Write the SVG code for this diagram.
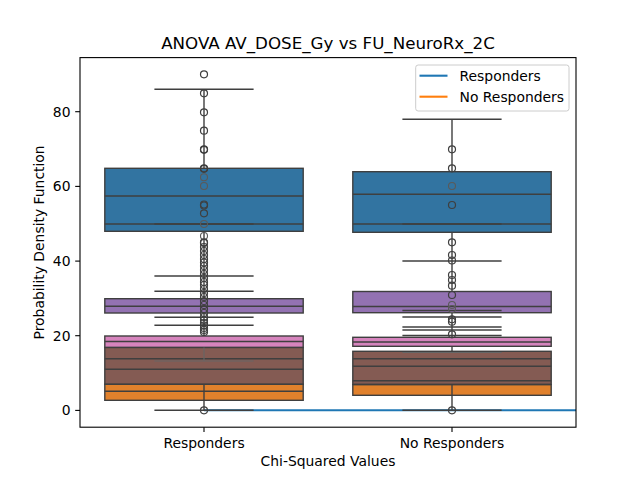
<svg xmlns="http://www.w3.org/2000/svg" width="640" height="480" viewBox="0 0 640 480">
<style>
.t{font-family:"DejaVu Sans","Liberation Sans",sans-serif;font-size:13.9px;fill:#000}
.box{stroke:#3f3f3f;stroke-width:1.4}
.ln{stroke:#3f3f3f;stroke-width:1.4;fill:none}
.lt{stroke:#666;stroke-width:1.1;fill:none}
.fl{fill:none;stroke:#3f3f3f;stroke-width:1.2}
.fll{fill:none;stroke:#5a5a5a;stroke-width:1.1}
.tk{stroke:#000;stroke-width:1.1}
.blue{fill:#3274a1}.orange{fill:#e1812c}.purple{fill:#9372b2}.brown{fill:#845b53}.pink{fill:#d684bd}
</style>
<rect width="640" height="480" fill="#fff"/>
<g id="baseline-line">
<line x1="204" y1="410.3" x2="576" y2="410.3" stroke="#1f77b4" stroke-width="2.1"/>
</g>
<g id="responders">
<line class="ln" x1="204" y1="89.3" x2="204" y2="168.3"/>
<line class="ln" x1="154.4" y1="89.3" x2="253.6" y2="89.3"/>
<line class="ln" x1="204" y1="231.3" x2="204" y2="336"/>
<rect class="box blue" x="104.8" y="168.3" width="198.4" height="63"/>
<line class="ln" x1="104.8" y1="196" x2="303.2" y2="196"/>
<line class="ln" x1="104.8" y1="224" x2="303.2" y2="224"/>
<line class="ln" x1="154.4" y1="224" x2="253.6" y2="224"/>
<line class="ln" x1="154.4" y1="276" x2="253.6" y2="276"/>
<line class="ln" x1="154.4" y1="291.3" x2="253.6" y2="291.3"/>
<line class="ln" x1="154.4" y1="317.3" x2="253.6" y2="317.3"/>
<line class="ln" x1="154.4" y1="325.3" x2="253.6" y2="325.3"/>
<rect class="box purple" x="104.8" y="298.7" width="198.4" height="14.3"/>
<line class="ln" x1="104.8" y1="306.3" x2="303.2" y2="306.3"/>
<rect class="box pink" x="104.8" y="336" width="198.4" height="11.5"/>
<line class="ln" x1="104.8" y1="341.5" x2="303.2" y2="341.5"/>
<rect class="box brown" x="104.8" y="347.5" width="198.4" height="36.8"/>
<line class="ln" x1="104.8" y1="358.7" x2="303.2" y2="358.7"/>
<line class="ln" x1="104.8" y1="369.3" x2="303.2" y2="369.3"/>
<line class="lt" x1="204" y1="347.5" x2="204" y2="361"/>
<line class="lt" x1="154.4" y1="361" x2="253.6" y2="361"/>
<rect class="box orange" x="104.8" y="384.3" width="198.4" height="16"/>
<line class="ln" x1="104.8" y1="391.3" x2="303.2" y2="391.3"/>
<line class="ln" x1="204" y1="384.3" x2="204" y2="410.3"/>
<line class="ln" x1="154.4" y1="410.3" x2="253.6" y2="410.3"/>
<g>
<circle class="fl" cx="204" cy="74.3" r="3.5"/>
<circle class="fl" cx="204" cy="93.3" r="3.5"/>
<circle class="fl" cx="204" cy="112.3" r="3.5"/>
<circle class="fl" cx="204" cy="130.7" r="3.5"/>
<circle class="fl" cx="204" cy="149.3" r="3.5"/>
<circle class="fl" cx="204" cy="149.8" r="3.5"/>
<circle class="fl" cx="204" cy="168.3" r="3.5"/>
<circle class="fl" cx="204" cy="168.8" r="3.5"/>
<circle class="fll" cx="204" cy="177.3" r="3.5"/>
<circle class="fll" cx="204" cy="186" r="3.5"/>
<circle class="fl" cx="204" cy="204.5" r="3.5"/>
<circle class="fl" cx="204" cy="205.5" r="3.5"/>
<circle class="fl" cx="204" cy="213.3" r="3.5"/>
<circle class="fll" cx="204" cy="224" r="3.5"/>
<circle class="fll" cx="204" cy="236" r="3.5"/>
<circle class="fl" cx="204" cy="242.3" r="3.5"/>
<circle class="fl" cx="204" cy="243" r="3.5"/>
<circle class="fl" cx="204" cy="247" r="3.5"/>
<circle class="fl" cx="204" cy="251" r="3.5"/>
<circle class="fl" cx="204" cy="255" r="3.5"/>
<circle class="fl" cx="204" cy="259" r="3.5"/>
<circle class="fl" cx="204" cy="262.5" r="3.5"/>
<circle class="fl" cx="204" cy="266" r="3.5"/>
<circle class="fl" cx="204" cy="270" r="3.5"/>
<circle class="fl" cx="204" cy="274" r="3.5"/>
<circle class="fl" cx="204" cy="278" r="3.5"/>
<circle class="fl" cx="204" cy="282" r="3.5"/>
<circle class="fl" cx="204" cy="285" r="3.5"/>
<circle class="fl" cx="204" cy="289" r="3.5"/>
<circle class="fl" cx="204" cy="293" r="3.5"/>
<circle class="fl" cx="204" cy="297" r="3.5"/>
<circle class="fl" cx="204" cy="301" r="3.5"/>
<circle class="fl" cx="204" cy="305" r="3.5"/>
<circle class="fl" cx="204" cy="309" r="3.5"/>
<circle class="fl" cx="204" cy="313" r="3.5"/>
<circle class="fl" cx="204" cy="317" r="3.5"/>
<circle class="fl" cx="204" cy="320" r="3.5"/>
<circle class="fl" cx="204" cy="323" r="3.5"/>
<circle class="fl" cx="204" cy="325.5" r="3.5"/>
<circle class="fl" cx="204" cy="328" r="3.5"/>
<circle class="fl" cx="204" cy="330" r="3.5"/>
<circle class="fl" cx="204" cy="332" r="3.5"/>
<circle class="fl" cx="204" cy="410.3" r="3.5"/>
</g>
</g>
<g id="no-responders">
<line class="ln" x1="452" y1="119.3" x2="452" y2="171.7"/>
<line class="ln" x1="402.4" y1="119.3" x2="501.6" y2="119.3"/>
<line class="ln" x1="452" y1="232.3" x2="452" y2="351.3"/>
<rect class="box blue" x="352.8" y="171.7" width="198.4" height="60.6"/>
<line class="ln" x1="352.8" y1="194.3" x2="551.2" y2="194.3"/>
<line class="ln" x1="352.8" y1="224" x2="551.2" y2="224"/>
<line class="ln" x1="402.4" y1="224" x2="501.6" y2="224"/>
<line class="ln" x1="402.4" y1="261" x2="501.6" y2="261"/>
<rect class="box purple" x="352.8" y="291.5" width="198.4" height="21.2"/>
<line class="ln" x1="352.8" y1="306.5" x2="551.2" y2="306.5"/>
<line class="ln" x1="402.4" y1="310.5" x2="501.6" y2="310.5"/>
<line class="ln" x1="402.4" y1="317" x2="501.6" y2="317"/>
<line class="ln" x1="402.4" y1="327" x2="501.6" y2="327"/>
<line class="ln" x1="402.4" y1="330" x2="501.6" y2="330"/>
<line class="ln" x1="402.4" y1="335.5" x2="501.6" y2="335.5"/>
<rect class="box pink" x="352.8" y="337.3" width="198.4" height="9"/>
<line class="ln" x1="352.8" y1="342" x2="551.2" y2="342"/>
<rect class="box brown" x="352.8" y="351.3" width="198.4" height="33"/>
<line class="lt" x1="402.4" y1="352.5" x2="501.6" y2="352.5"/>
<line class="ln" x1="352.8" y1="358.7" x2="551.2" y2="358.7"/>
<line class="ln" x1="352.8" y1="366.3" x2="551.2" y2="366.3"/>
<line class="ln" x1="352.8" y1="380.7" x2="551.2" y2="380.7"/>
<rect class="box orange" x="352.8" y="384.7" width="198.4" height="10.6"/>
<line class="ln" x1="452" y1="384.7" x2="452" y2="410.3"/>
<line class="ln" x1="402.4" y1="410.3" x2="501.6" y2="410.3"/>
<g>
<circle class="fl" cx="452" cy="149.3" r="3.5"/>
<circle class="fl" cx="452" cy="168.3" r="3.5"/>
<circle class="fll" cx="452" cy="186" r="3.5"/>
<circle class="fl" cx="452" cy="205" r="3.5"/>
<circle class="fl" cx="452" cy="242.3" r="3.5"/>
<circle class="fl" cx="452" cy="255" r="3.5"/>
<circle class="fl" cx="452" cy="260.5" r="3.5"/>
<circle class="fl" cx="452" cy="275" r="3.5"/>
<circle class="fl" cx="452" cy="280" r="3.5"/>
<circle class="fl" cx="452" cy="285.7" r="3.5"/>
<circle class="fl" cx="452" cy="295" r="3.5"/>
<circle class="fll" cx="452" cy="305" r="3.5"/>
<circle class="fll" cx="452" cy="309" r="3.5"/>
<circle class="fl" cx="452" cy="319.3" r="3.5"/>
<circle class="fl" cx="452" cy="321.7" r="3.5"/>
<circle class="fl" cx="452" cy="334.3" r="3.5"/>
<circle class="fl" cx="452" cy="410.3" r="3.5"/>
</g>
</g>
<g id="axes">
<rect x="80" y="57.6" width="496" height="369.6" fill="none" stroke="#000" stroke-width="1.1"/>
<line class="tk" x1="204" y1="427.2" x2="204" y2="432"/>
<line class="tk" x1="452" y1="427.2" x2="452" y2="432"/>
<line class="tk" x1="75.2" y1="410.4" x2="80" y2="410.4"/>
<line class="tk" x1="75.2" y1="335.7" x2="80" y2="335.7"/>
<line class="tk" x1="75.2" y1="261.1" x2="80" y2="261.1"/>
<line class="tk" x1="75.2" y1="186.4" x2="80" y2="186.4"/>
<line class="tk" x1="75.2" y1="111.7" x2="80" y2="111.7"/>
<text class="t" x="70.5" y="415.4" text-anchor="end">0</text>
<text class="t" x="70.5" y="340.7" text-anchor="end">20</text>
<text class="t" x="70.5" y="266.1" text-anchor="end">40</text>
<text class="t" x="70.5" y="191.4" text-anchor="end">60</text>
<text class="t" x="70.5" y="116.7" text-anchor="end">80</text>
<text class="t" x="204" y="447.5" text-anchor="middle">Responders</text>
<text class="t" x="452" y="447.5" text-anchor="middle">No Responders</text>
<text class="t" x="328" y="466" text-anchor="middle">Chi-Squared Values</text>
<text class="t" x="44" y="242.4" text-anchor="middle" transform="rotate(-90 44 242.4)">Probability Density Function</text>
<text class="t" x="328" y="49.3" text-anchor="middle" style="font-size:16.7px">ANOVA AV_DOSE_Gy vs FU_NeuroRx_2C</text>
</g>
<g id="legend">
<rect x="415.7" y="65" width="153.3" height="46" rx="2.5" fill="#fff" fill-opacity="0.8" stroke="#cccccc" stroke-width="1"/>
<line x1="419.5" y1="75.7" x2="447.5" y2="75.7" stroke="#1f77b4" stroke-width="2.1"/>
<line x1="419.5" y1="96.7" x2="447.5" y2="96.7" stroke="#ff7f0e" stroke-width="2.1"/>
<text class="t" x="459.5" y="80.7">Responders</text>
<text class="t" x="459.5" y="101.7">No Responders</text>
</g>
</svg>
